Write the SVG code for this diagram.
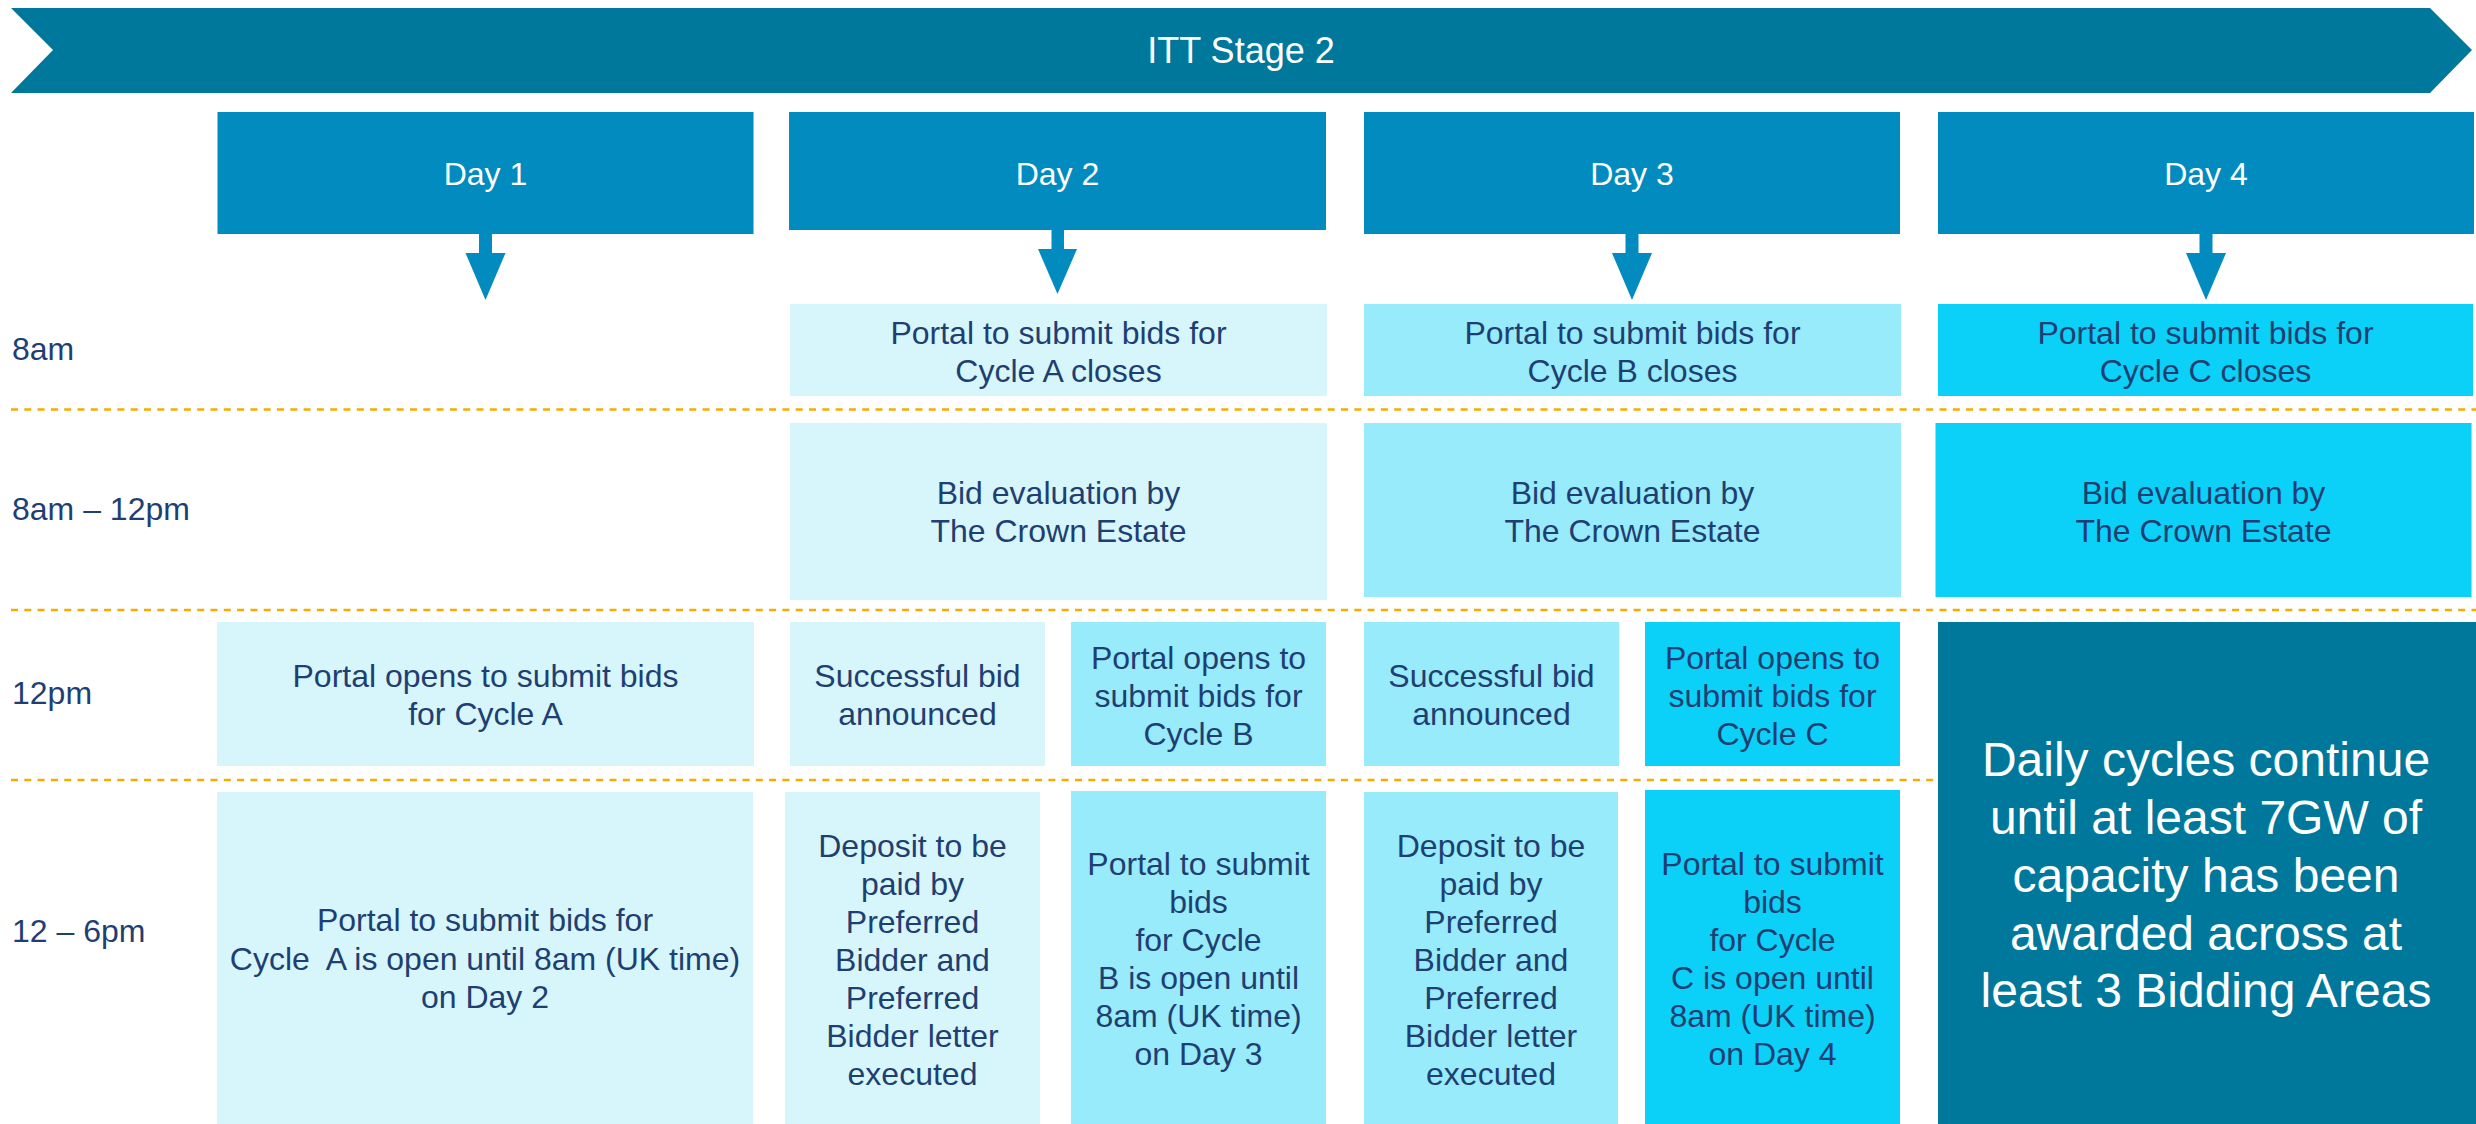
<svg xmlns="http://www.w3.org/2000/svg" width="2476" height="1124" viewBox="0 0 2476 1124">
<style>
text{font-family:"Liberation Sans",Arial,sans-serif;}
.t{font-size:32px;fill:#1F3F72;text-anchor:middle;}
.lbl{font-size:32px;fill:#1F3F72;}
.w{font-size:32px;fill:#FFFFFF;text-anchor:middle;}
.ttl{font-size:36px;fill:#FFFFFF;text-anchor:middle;}
.big{font-size:48px;fill:#FFFFFF;text-anchor:middle;}
.day{fill:#028BBE;}
.arr{fill:#028BBE;}
.c1{fill:#D7F6FB;}
.c2{fill:#97EBFB;}
.c3{fill:#0BD0F7;}
.dark{fill:#00789C;}
.dash{stroke:#F5AC00;stroke-width:2.6;stroke-dasharray:7 6.3;fill:none;}
</style>
<rect width="2476" height="1124" fill="#FFFFFF"/>

<g id="banner">
<polygon class="dark" points="11,8 2430,8 2472,50 2430,93 11,93 53,50"/>
<text class="ttl" x="1241" y="63">ITT Stage 2</text>
</g>

<g id="day1"><rect class="day" x="217.5" y="112" width="536" height="122"/><text class="w" x="485.5" y="185">Day 1</text></g>
<g id="day2"><rect class="day" x="789" y="112" width="537" height="118"/><text class="w" x="1057.5" y="185">Day 2</text></g>
<g id="day3"><rect class="day" x="1364" y="112" width="536" height="122"/><text class="w" x="1632" y="185">Day 3</text></g>
<g id="day4"><rect class="day" x="1938" y="112" width="536" height="122"/><text class="w" x="2206" y="185">Day 4</text></g>

<g id="connectors">
<polygon class="arr" points="479,234 492,234 492,253 505.5,253 485.5,300 465.5,253 479,253"/>
<polygon class="arr" points="1051.5,230 1064,230 1064,249 1077,249 1057.5,294 1038,249 1051.5,249"/>
<polygon class="arr" points="1625.5,234 1638.5,234 1638.5,253 1652,253 1632,300 1612,253 1625.5,253"/>
<polygon class="arr" points="2199.5,234 2212.5,234 2212.5,253 2226,253 2206,300 2186,253 2199.5,253"/>
</g>

<g id="gridlines">
<line class="dash" x1="11" y1="409.5" x2="2476" y2="409.5"/>
<line class="dash" x1="11" y1="610" x2="2476" y2="610"/>
<line class="dash" x1="11" y1="780" x2="1937" y2="780"/>
</g>

<g id="time-labels">
<text class="lbl" x="12" y="360">8am</text>
<text class="lbl" x="12" y="520">8am – 12pm</text>
<text class="lbl" x="12" y="704">12pm</text>
<text class="lbl" x="12" y="942">12 – 6pm</text>
</g>

<g id="d2-close"><rect class="c1" x="790" y="304" width="537" height="92"/><text class="t" x="1058.5" y="343.5">Portal to submit bids for</text><text class="t" x="1058.5" y="382">Cycle A closes</text></g>
<g id="d3-close"><rect class="c2" x="1364" y="304" width="537" height="92"/><text class="t" x="1632.5" y="343.5">Portal to submit bids for</text><text class="t" x="1632.5" y="382">Cycle B closes</text></g>
<g id="d4-close"><rect class="c3" x="1938" y="304" width="535" height="92"/><text class="t" x="2205.5" y="343.5">Portal to submit bids for</text><text class="t" x="2205.5" y="382">Cycle C closes</text></g>

<g id="d2-eval"><rect class="c1" x="790" y="423" width="537" height="177"/><text class="t" x="1058.5" y="503.5">Bid evaluation by</text><text class="t" x="1058.5" y="542">The Crown Estate</text></g>
<g id="d3-eval"><rect class="c2" x="1364" y="423" width="537" height="174"/><text class="t" x="1632.5" y="503.5">Bid evaluation by</text><text class="t" x="1632.5" y="542">The Crown Estate</text></g>
<g id="d4-eval"><rect class="c3" x="1935.5" y="423" width="536" height="174"/><text class="t" x="2203.5" y="503.5">Bid evaluation by</text><text class="t" x="2203.5" y="542">The Crown Estate</text></g>

<g id="d1-open"><rect class="c1" x="217" y="622" width="537" height="144"/><text class="t" x="485.5" y="687">Portal opens to submit bids</text><text class="t" x="485.5" y="725">for Cycle A</text></g>
<g id="d2-success"><rect class="c1" x="790" y="622" width="255" height="144"/><text class="t" x="917.5" y="687">Successful bid</text><text class="t" x="917.5" y="725">announced</text></g>
<g id="d2-open"><rect class="c2" x="1071" y="622" width="255" height="144"/><text class="t" x="1198.5" y="668.5">Portal opens to</text><text class="t" x="1198.5" y="706.8">submit bids for</text><text class="t" x="1198.5" y="745">Cycle B</text></g>
<g id="d3-success"><rect class="c2" x="1364" y="622" width="255" height="144"/><text class="t" x="1491.5" y="687">Successful bid</text><text class="t" x="1491.5" y="725">announced</text></g>
<g id="d3-open"><rect class="c3" x="1645" y="622" width="255" height="144"/><text class="t" x="1772.5" y="668.5">Portal opens to</text><text class="t" x="1772.5" y="706.8">submit bids for</text><text class="t" x="1772.5" y="745">Cycle C</text></g>

<g id="d4-continue"><rect class="dark" x="1938" y="622" width="538" height="502"/>
<text class="big" x="2206" y="776">Daily cycles continue</text>
<text class="big" x="2206" y="834">until at least 7GW of</text>
<text class="big" x="2206" y="892">capacity has been</text>
<text class="big" x="2206" y="950">awarded across at</text>
<text class="big" x="2206" y="1007">least 3 Bidding Areas</text>
</g>

<g id="d1-window"><rect class="c1" x="217" y="792" width="536" height="332"/>
<text class="t" x="485" y="931">Portal to submit bids for</text>
<text class="t" x="485" y="969.5" xml:space="preserve">Cycle  A is open until 8am (UK time)</text>
<text class="t" x="485" y="1008">on Day 2</text>
</g>
<g id="d2-deposit"><rect class="c1" x="785" y="792" width="255" height="332"/>
<text class="t" x="912.5" y="857">Deposit to be</text>
<text class="t" x="912.5" y="895">paid by</text>
<text class="t" x="912.5" y="933">Preferred</text>
<text class="t" x="912.5" y="971">Bidder and</text>
<text class="t" x="912.5" y="1009">Preferred</text>
<text class="t" x="912.5" y="1047">Bidder letter</text>
<text class="t" x="912.5" y="1085">executed</text>
</g>
<g id="d2-window"><rect class="c2" x="1071" y="791" width="255" height="333"/>
<text class="t" x="1198.5" y="875">Portal to submit</text>
<text class="t" x="1198.5" y="913">bids</text>
<text class="t" x="1198.5" y="951">for Cycle</text>
<text class="t" x="1198.5" y="989">B is open until</text>
<text class="t" x="1198.5" y="1027">8am (UK time)</text>
<text class="t" x="1198.5" y="1065">on Day 3</text>
</g>
<g id="d3-deposit"><rect class="c2" x="1364" y="792" width="254" height="332"/>
<text class="t" x="1491" y="857">Deposit to be</text>
<text class="t" x="1491" y="895">paid by</text>
<text class="t" x="1491" y="933">Preferred</text>
<text class="t" x="1491" y="971">Bidder and</text>
<text class="t" x="1491" y="1009">Preferred</text>
<text class="t" x="1491" y="1047">Bidder letter</text>
<text class="t" x="1491" y="1085">executed</text>
</g>
<g id="d3-window"><rect class="c3" x="1645" y="790" width="255" height="334"/>
<text class="t" x="1772.5" y="875">Portal to submit</text>
<text class="t" x="1772.5" y="913">bids</text>
<text class="t" x="1772.5" y="951">for Cycle</text>
<text class="t" x="1772.5" y="989">C is open until</text>
<text class="t" x="1772.5" y="1027">8am (UK time)</text>
<text class="t" x="1772.5" y="1065">on Day 4</text>
</g>
</svg>
